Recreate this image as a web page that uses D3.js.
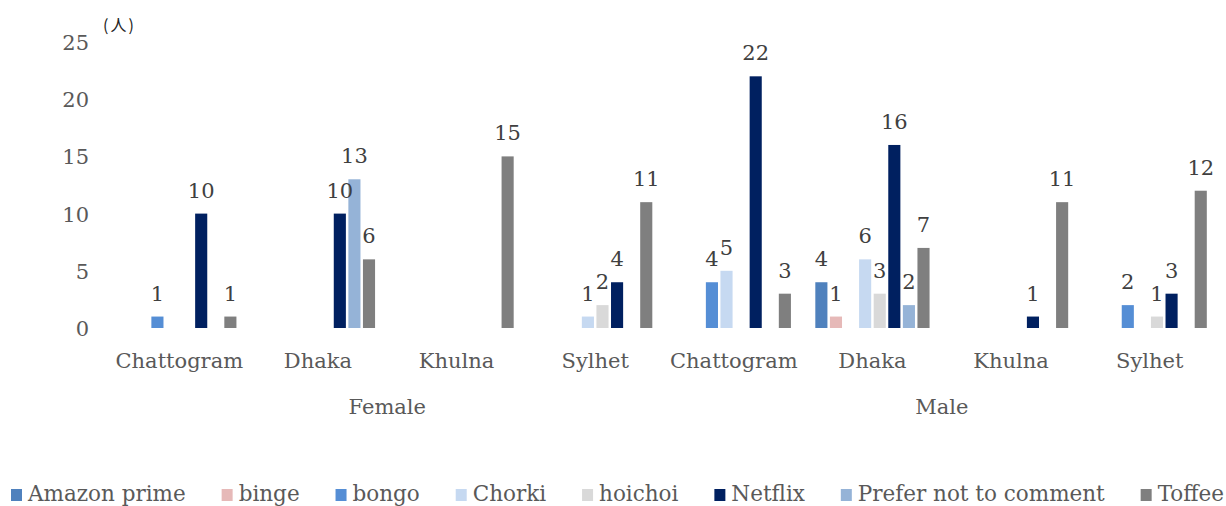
<!DOCTYPE html>
<html>
<head>
  <meta charset="UTF-8">
  <title>Streaming platforms by gender and city</title>
  <script src="https://d3js.org/d3.v7.min.js"></script>
  <style>
    body {
      margin: 0;
      background: #fff;
      font-family: "DejaVu Serif", serif;
    }
    .tick-label { fill: #595959; font-size: 21px; }
    .value-label { fill: #404040; font-size: 21px; }
    .cat-label { fill: #595959; font-size: 21px; }
    .legend-text { fill: #595959; font-size: 21.5px; }
    .unit { fill: #222; font-size: 16px; font-family: "Noto Sans CJK JP", sans-serif; letter-spacing: 2px; }
  </style>
</head>
<body>
  <div id="chart"></div>
  <script>
    const genders = ["Female", "Male"];
    const cities = ["Chattogram", "Dhaka", "Khulna", "Sylhet"];
    const series = ["Amazon prime", "binge", "bongo", "Chorki", "hoichoi", "Netflix", "Prefer not to comment", "Toffee"];
    const colours = ["#4f81bd", "#e6b9b8", "#558ed5", "#c6d9f1", "#d9d9d9", "#002060", "#95b3d7", "#7f7f7f"];
    const yTicks = [0, 5, 10, 15, 20, 25];

    // one row per series, one value per group (Female x 4 cities, then Male x 4 cities)
    const amazonPrime = [null, null, null, null, null, 4, null, null];
    const binge       = [null, null, null, null, null, 1, null, null];
    const bongo       = [1, null, null, null, 4, null, null, 2];
    const chorki      = [null, null, null, 1, 5, 6, null, null];
    const hoichoi     = [null, null, null, 2, null, 3, null, 1];
    const netflix     = [10, 10, null, 4, 22, 16, 1, 3];
    const preferNot   = [null, 13, null, null, null, 2, null, null];
    const toffee      = [1, 6, 15, 11, 3, 7, 11, 12];

    const values = [amazonPrime, binge, bongo, chorki, hoichoi, netflix, preferNot, toffee];

    const width = 1226, height = 506;
    const groups = [];
    genders.forEach(g => cities.forEach(c => groups.push(g + "|" + c)));

    const rows = [];
    values.forEach((arr, si) => arr.forEach((v, gi) => {
      if (v != null) rows.push({ series: series[si], group: groups[gi], value: v, colour: colours[si] });
    }));

    const svg = d3.select("#chart").append("svg")
      .attr("width", width)
      .attr("height", height);

    const x0 = d3.scaleBand().domain(groups).range([110, 1219]);
    const step = x0.step();
    const clusterGap = step * 0.158;
    const x1 = d3.scaleBand().domain(series)
      .range([clusterGap / 2, step - clusterGap / 2])
      .paddingInner(0.17)
      .paddingOuter(0.085);

    const y = d3.scaleLinear().domain([0, 25]).range([328, 42]);

    // y axis labels (no line, no ticks)
    svg.append("g").selectAll("text")
      .data(yTicks)
      .join("text")
      .attr("class", "tick-label")
      .attr("x", 89)
      .attr("y", d => y(d) + 8)
      .attr("text-anchor", "end")
      .text(d => d);

    svg.append("text")
      .attr("class", "unit")
      .attr("x", 103)
      .attr("y", 31)
      .text("(人)");

    // bars
    svg.append("g").selectAll("rect")
      .data(rows)
      .join("rect")
      .attr("x", d => x0(d.group) + x1(d.series))
      .attr("y", d => y(d.value))
      .attr("width", x1.bandwidth())
      .attr("height", d => y(0) - y(d.value))
      .attr("fill", d => d.colour);

    // value labels
    svg.append("g").selectAll("text")
      .data(rows)
      .join("text")
      .attr("class", "value-label")
      .attr("x", d => x0(d.group) + x1(d.series) + x1.bandwidth() / 2)
      .attr("y", d => y(d.value) - 16)
      .attr("text-anchor", "middle")
      .text(d => d.value);

    // city labels
    svg.append("g").selectAll("text")
      .data(groups)
      .join("text")
      .attr("class", "cat-label")
      .attr("x", d => x0(d) + step / 2)
      .attr("y", 368)
      .attr("text-anchor", "middle")
      .text(d => d.split("|")[1]);

    // gender labels
    svg.append("g").selectAll("text")
      .data(genders)
      .join("text")
      .attr("class", "cat-label")
      .attr("x", g => {
        const gs = groups.filter(d => d.startsWith(g + "|"));
        return (x0(gs[0]) + x0(gs[gs.length - 1]) + step) / 2;
      })
      .attr("y", 414)
      .attr("text-anchor", "middle")
      .text(d => d);

    // legend, spread across the full width like the original
    const legend = svg.append("g");
    const items = legend.selectAll("g")
      .data(series)
      .join("g");
    items.append("rect")
      .attr("width", 11)
      .attr("height", 12)
      .attr("y", 489)
      .attr("fill", (d, i) => colours[i]);
    items.append("text")
      .attr("class", "legend-text")
      .attr("x", 17)
      .attr("y", 501)
      .text(d => d);

    const legendLeft = 11, legendRight = 1224;
    const widths = [];
    items.each(function() {
      widths.push(17 + this.querySelector("text").getComputedTextLength());
    });
    const itemGap = (legendRight - legendLeft - d3.sum(widths)) / (series.length - 1);
    let pos = legendLeft;
    const offsets = widths.map(w => { const p = pos; pos += w + itemGap; return p; });
    items.attr("transform", (d, i) => `translate(${offsets[i]},0)`);
  </script>
</body>
</html>
